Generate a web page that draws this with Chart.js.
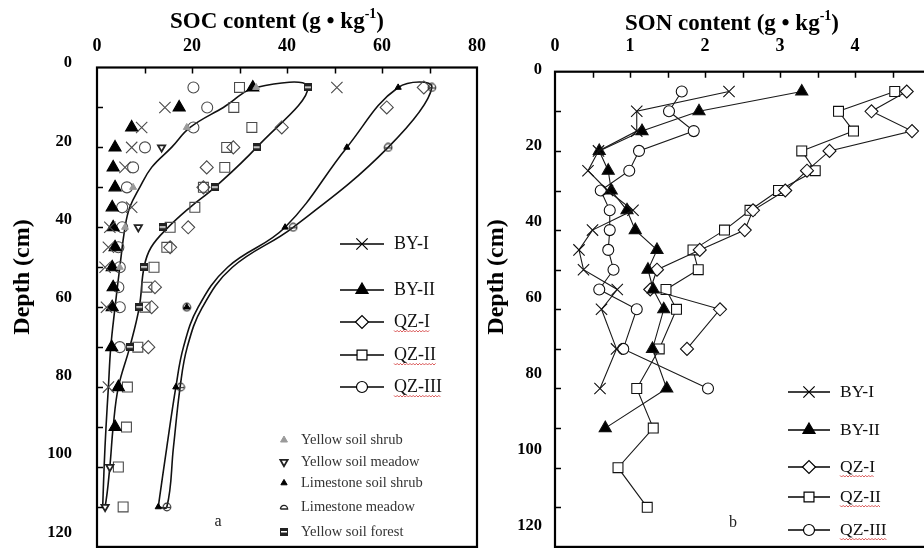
<!DOCTYPE html>
<html>
<head>
<meta charset="utf-8">
<title>SOC / SON depth profiles</title>
<script src="https://cdn.jsdelivr.net/npm/chart.js@4.4.0/dist/chart.umd.min.js"></script>
<style>
  html, body { margin: 0; padding: 0; background: #fff; overflow: hidden; }
  #wrap { position: relative; width: 924px; height: 556px; overflow: hidden; background: #fff; }
  #soc { position: absolute; left: 0; top: 0; width: 500px; height: 556px; }
  #son { position: absolute; left: 480px; top: 0; width: 460px; height: 556px; }
</style>
</head>
<body>
<div id="wrap">
  <canvas id="soc" width="500" height="556"></canvas>
  <canvas id="son" width="460" height="556"></canvas>
</div>
<script>
(() => {
    const SERIF = '"Liberation Serif", "Times New Roman", serif';

    // ---- tick labels ----
    const depthTicks = [0, 20, 40, 60, 80, 100, 120];
    const socTicks = [0, 20, 40, 60, 80];
    const sonTicks = [0, 1, 2, 3, 4, 5];
    const siteNames = ['BY-I', 'BY-II', 'QZ-I', 'QZ-II', 'QZ-III'];

    // ---- panel a : SOC (g/kg) per depth (cm) ----
    const socDepth = [5, 10, 15, 20, 25, 30, 35, 40, 45, 50, 55, 60, 70, 80, 90, 100, 110];
    const socBY1 = [50.5, 14.3, 9.4, 7.3, 5.9, null, 7.3, 2.7, 2.4, 1.7, null, 2.0, null, 2.4, null, null, null];
    const socBY2 = [32.8, 17.3, 7.3, 3.8, 3.4, 3.8, 3.2, 3.4, 3.8, 3.2, 3.4, 3.2, 3.1, 4.5, 3.8, null, null];
    const socQZ1 = [68.8, 61.0, 38.9, 28.7, 23.1, 22.4, null, 19.2, 15.4, null, 12.2, 11.5, 10.8, null, null, null, null];
    const socQZ2 = [30.0, 28.8, 32.6, 27.3, 26.9, 22.4, 20.6, 15.4, 14.7, 12.0, 10.5, 10.1, 8.6, 6.4, 6.2, 4.5, 5.5];
    const socQZ3 = [20.3, 23.2, 20.3, 10.1, 7.6, 6.3, 5.3, 5.3, 4.5, 4.8, 4.5, 4.8, 4.8, null, null, null, null];

    // land-use means (small symbols)
    const yShrubDepth = [5, 15, 30, 40, 50];
    const yShrub = [33.5, 18.9, 7.6, 5.9, 4.8];
    const yMeadowDepth = [20, 40, 100, 110];
    const yMeadow = [13.6, 8.7, 2.7, 1.7];
    const limeDepth = [5, 20, 40, 60, 80, 110];
    const limeShrub = [63.4, 52.6, 39.6, 18.9, 16.6, 12.9];
    const limeMeadow = [70.5, 61.3, 41.3, 18.9, 17.6, 14.7];
    const yForestDepth = [5, 20, 30, 40, 50, 60, 70];
    const yForest = [44.4, 33.6, 24.8, 13.8, 9.9, 8.9, 6.9];

    // fitted curves
    const fitShrubDepth = [5, 10, 15, 20, 25, 30, 35, 40, 50, 60, 70, 80, 90, 100, 110];
    const fitShrub = [33.5, 26.6, 19.6, 15.7, 11.5, 9.0, 6.9, 5.9, 4.8, 3.8, 2.9, 2.4, 1.9, 1.5, 1.2];
    const fitForestDepth = [5, 20, 30, 35, 40, 45, 50, 60, 70, 80, 90, 100, 110];
    const fitForest = [44.4, 33.6, 24.8, 19.6, 15.0, 11.4, 9.9, 8.9, 6.9, 4.5, 3.4, 2.7, 1.7];
    const fitLimeDepth = [5, 20, 40, 50, 60, 70, 80, 95, 110];
    const fitLimeShrub = [63.4, 52.6, 39.6, 27.5, 21.3, 18.2, 16.6, 14.7, 12.9];
    const fitLimeMeadow = [70.5, 61.3, 41.3, 28.5, 22.2, 19.0, 17.5, 16.1, 14.7];

    // ---- panel b : SON (g/kg) per depth (cm) ----
    const sonDepth = [5, 10, 15, 20, 25, 30, 35, 40, 45, 50, 55, 60, 70, 80, 90, 100, 110];
    const sonBY1 = [2.32, 1.09, 1.09, 0.58, 0.44, 0.70, 1.04, 0.50, 0.32, 0.38, 0.83, 0.62, 0.82, 0.60, null, null, null];
    const sonBY2 = [3.29, 1.92, 1.16, 0.59, 0.71, 0.75, 0.96, 1.07, 1.36, 1.24, 1.31, 1.45, 1.30, 1.49, 0.67, null, null];
    const sonQZ1 = [4.69, 4.22, 4.76, 3.66, 3.36, 3.07, 2.64, 2.53, 1.93, 1.36, 1.27, 2.20, 1.76, null, null, null, null];
    const sonQZ2 = [4.53, 3.78, 3.98, 3.29, 3.47, 2.98, 2.60, 2.26, 1.84, 1.91, 1.48, 1.62, 1.39, 1.09, 1.31, 0.84, 1.23];
    const sonQZ3 = [1.69, 1.52, 1.85, 1.12, 0.99, 0.61, 0.73, 0.73, 0.71, 0.78, 0.59, 1.09, 0.91, 2.04, null, null, null];

    // helpers
    const pts = (xs, ds) => xs.map((v, i) => ({ x: v, y: ds[i] })).filter(p => p.x !== null);
    // inner curve going up, outer curve going down, closed at the bottom
    const loop = (inner, outer) => {
        const up = inner.slice().reverse();
        return [...up, ...outer, up[0]];
    };

    function smallImg(w, h, paint) {
        const c = document.createElement('canvas');
        c.width = w; c.height = h;
        paint(c.getContext('2d'));
        return c;
    }
    const forestImg = smallImg(8, 8, g => {
        g.fillStyle = '#222'; g.fillRect(0, 0, 8, 8);
        g.fillStyle = '#fff'; g.fillRect(1, 3, 6, 1.5);
    });
    const meadowImg = smallImg(10, 10, g => {
        g.strokeStyle = '#333'; g.lineWidth = 1.2;
        g.beginPath(); g.arc(5, 5, 3.8, 0, Math.PI * 2); g.stroke();
        g.beginPath(); g.moveTo(1, 5.5); g.lineTo(9, 5.5); g.stroke();
    });
    const domeImg = smallImg(10, 8, g => {
        g.strokeStyle = '#222'; g.lineWidth = 1.3;
        g.beginPath(); g.arc(5, 6, 3.6, Math.PI, 0); g.lineTo(1.4, 6); g.stroke();
    });

    const MARK = {
        'BY-I':   { pointStyle: 'crossRot', radius: 8, fill: false },
        'BY-II':  { pointStyle: 'triangle', radius: 7, fill: true },
        'QZ-I':   { pointStyle: 'rectRot', radius: 6.5, fill: false },
        'QZ-II':  { pointStyle: 'rect', radius: 7, fill: false },
        'QZ-III': { pointStyle: 'circle', radius: 5.5, fill: false }
    };

    const SMALL = [
        { name: 'Yellow soil shrub', pointStyle: 'triangle', radius: 4, fill: '#9a9a9a', stroke: '#9a9a9a', bw: 1 },
        { name: 'Yellow soil meadow', pointStyle: 'triangle', rotation: 180, radius: 4.2, fill: '#fff', stroke: '#222', bw: 1.8 },
        { name: 'Limestone soil shrub', pointStyle: 'triangle', radius: 3.6, fill: '#000', stroke: '#000', bw: 1 },
        { name: 'Limestone meadow', pointStyle: domeImg, radius: 4 },
        { name: 'Yellow soil forest', pointStyle: forestImg, radius: 4 }
    ];

    // frame with inward tick marks
    const framePlugin = {
        id: 'frame',
        afterDraw(chart, args, opts) {
            const { ctx, chartArea: a } = chart;
            const xs = chart.scales.x, ys = chart.scales.y;
            ctx.save();
            ctx.strokeStyle = '#000';
            ctx.lineWidth = 1.5;
            ctx.beginPath();
            for (let v = xs.min + opts.xStep; v < xs.max - 1e-9; v += opts.xStep) {
                const px = Math.round(xs.getPixelForValue(v)) + 0.5;
                ctx.moveTo(px, a.top); ctx.lineTo(px, a.top + 6);
            }
            for (let v = ys.min + opts.yStep; v < ys.max - 1e-9; v += opts.yStep) {
                const py = Math.round(ys.getPixelForValue(v)) + 0.5;
                ctx.moveTo(a.left, py); ctx.lineTo(a.left + 6, py);
            }
            ctx.stroke();
            ctx.lineWidth = 2.2;
            ctx.strokeRect(a.left, a.top, a.right - a.left, a.bottom - a.top);
            ctx.restore();
        }
    };

    function drawRich(ctx, parts, cx, cy, size) {
        const fonts = parts.map(p => `bold ${p[1] ? Math.round(size * 0.6) : size}px ${SERIF}`);
        let total = 0;
        const widths = parts.map((p, i) => {
            ctx.font = fonts[i];
            const w = ctx.measureText(p[0]).width;
            total += w;
            return w;
        });
        let x = cx - total / 2;
        ctx.textAlign = 'left';
        ctx.textBaseline = 'alphabetic';
        parts.forEach((p, i) => {
            ctx.font = fonts[i];
            ctx.fillText(p[0], x, cy + size * 0.33 - (p[1] ? size * 0.42 : 0));
            x += widths[i];
        });
    }

    function squiggle(ctx, x0, x1, y) {
        ctx.save();
        ctx.strokeStyle = '#d03030';
        ctx.lineWidth = 0.8;
        ctx.beginPath();
        let k = 0;
        for (let x = x0; x <= x1; x += 1.6, k++) {
            const yy = y + (k % 2 ? 1 : -0.6);
            if (k === 0) ctx.moveTo(x, yy); else ctx.lineTo(x, yy);
        }
        ctx.stroke();
        ctx.restore();
    }

    function drawMarker(ctx, m, x, y, fill) {
        ctx.fillStyle = fill;
        ctx.strokeStyle = '#000';
        ctx.lineWidth = 1.2;
        Chart.helpers.drawPoint(ctx, { pointStyle: m.pointStyle, radius: m.radius, rotation: m.rotation || 0, borderWidth: 1.2 }, x, y);
    }

    // titles, legends, letters
    const notesPlugin = {
        id: 'notes',
        afterDraw(chart, args, o) {
            const ctx = chart.ctx;
            ctx.save();
            ctx.fillStyle = '#000';
            drawRich(ctx, o.title.parts, o.title.x, o.title.y, 23);

            ctx.save();
            ctx.translate(o.depth.x, o.depth.y);
            ctx.rotate(-Math.PI / 2);
            ctx.font = `bold 24px ${SERIF}`;
            ctx.textAlign = 'center';
            ctx.textBaseline = 'middle';
            ctx.fillText('Depth (cm)', 0, 0);
            ctx.restore();

            ctx.font = `16px ${SERIF}`;
            ctx.textAlign = 'center';
            ctx.textBaseline = 'middle';
            ctx.fillStyle = '#222';
            ctx.fillText(o.letter.text, o.letter.x, o.letter.y);

            // site legend
            const L = o.legend;
            siteNames.forEach((name, i) => {
                const y = L.rows[i];
                ctx.strokeStyle = '#000';
                ctx.lineWidth = 1.5;
                ctx.beginPath(); ctx.moveTo(L.x0, y); ctx.lineTo(L.x1, y); ctx.stroke();
                const m = MARK[name];
                drawMarker(ctx, m, (L.x0 + L.x1) / 2, y, m.fill ? '#000' : '#fff');
                ctx.fillStyle = '#111';
                ctx.font = `${L.size}px ${SERIF}`;
                ctx.textAlign = 'left';
                ctx.textBaseline = 'middle';
                ctx.fillText(name, L.tx, y);
                if (name.startsWith('QZ')) {
                    const w = ctx.measureText(name).width;
                    squiggle(ctx, L.tx, L.tx + w, y + 9);
                }
            });

            // land-use legend
            if (o.small) {
                const S = o.small;
                SMALL.forEach((m, i) => {
                    const y = S.rows[i];
                    ctx.fillStyle = m.fill || '#000';
                    ctx.strokeStyle = m.stroke || '#000';
                    ctx.lineWidth = m.bw || 1;
                    Chart.helpers.drawPoint(ctx, { pointStyle: m.pointStyle, radius: m.radius, rotation: m.rotation || 0, borderWidth: m.bw || 1 }, S.mx, y);
                    ctx.fillStyle = '#333';
                    ctx.font = `14.5px ${SERIF}`;
                    ctx.textAlign = 'left';
                    ctx.textBaseline = 'middle';
                    ctx.fillText(m.name, S.tx, y);
                });
            }
            ctx.restore();
        }
    };

    // scale boxes have fixed sizes; label overhang must not shrink the plot
    const noPad = s => { s.paddingTop = 0; s.paddingBottom = 0; s.paddingLeft = 0; s.paddingRight = 0; };

    function axes(xMin, xMax, xTicks, xHeight, xPad, labMin, labMax, yWidth, yPad) {
        const tickFont = { family: SERIF, size: 18, weight: 'bold' };
        return {
            x: {
                type: 'linear', position: 'top', min: xMin, max: xMax,
                grid: { display: false, drawTicks: false }, border: { display: false },
                afterBuildTicks: s => { s.ticks = xTicks.map(v => ({ value: v })); },
                ticks: { color: '#000', font: tickFont, padding: xPad, maxRotation: 0 },
                afterFit: s => { s.height = xHeight; noPad(s); }
            },
            y: { type: 'linear', reverse: true, min: 0, max: 120, display: false },
            yLab: {
                type: 'linear', position: 'left', reverse: true, min: labMin, max: labMax,
                grid: { display: false, drawTicks: false }, border: { display: false },
                afterBuildTicks: s => { s.ticks = depthTicks.map(v => ({ value: v })); },
                ticks: { color: '#000', font: { family: SERIF, size: 16.5, weight: 'bold' }, padding: yPad },
                afterFit: s => { s.width = yWidth; noPad(s); }
            }
        };
    }

    const baseOpts = {
        responsive: false,
        animation: false,
        events: [],
        plugins: { legend: { display: false }, tooltip: { enabled: false } }
    };

    // ---------- chart a ----------
    const socSeries = [socBY1, socBY2, socQZ1, socQZ2, socQZ3];
    const socMarkSets = siteNames.map((name, i) => {
        const m = MARK[name];
        return {
            label: name,
            data: pts(socSeries[i], socDepth),
            pointStyle: m.pointStyle,
            pointRadius: m.radius,
            pointBackgroundColor: m.fill ? '#000' : 'rgba(0,0,0,0)',
            pointBorderColor: m.fill ? '#000' : '#4a4a4a',
            pointBorderWidth: 1.1,
            showLine: false,
            order: 2
        };
    });

    const smallSet = (label, xs, ds, style) => Object.assign({
        label, data: pts(xs, ds), showLine: false, order: 1
    }, style);

    const socSets = [
        ...socMarkSets,
        smallSet('Yellow soil shrub', yShrub, yShrubDepth,
            { pointStyle: 'triangle', pointRadius: 4, pointBackgroundColor: '#9a9a9a', pointBorderColor: '#9a9a9a' }),
        smallSet('Yellow soil meadow', yMeadow, yMeadowDepth,
            { pointStyle: 'triangle', pointRotation: 180, pointRadius: 4.2, pointBackgroundColor: '#fff', pointBorderColor: '#222', pointBorderWidth: 1.8 }),
        smallSet('Limestone soil shrub', limeShrub, limeDepth,
            { pointStyle: 'triangle', pointRadius: 3.6, pointBackgroundColor: '#000', pointBorderColor: '#000' }),
        smallSet('Limestone meadow', limeMeadow, limeDepth,
            { pointStyle: meadowImg, pointRadius: 4 }),
        smallSet('Yellow soil forest', yForest, yForestDepth,
            { pointStyle: forestImg, pointRadius: 4 }),
        {
            label: 'Yellow soil fit',
            data: loop(pts(fitShrub, fitShrubDepth), pts(fitForest, fitForestDepth)),
            showLine: true, tension: 0.4, borderColor: '#111', borderWidth: 1.6,
            pointRadius: 0, order: 3
        },
        {
            label: 'Limestone fit',
            data: loop(pts(fitLimeShrub, fitLimeDepth), pts(fitLimeMeadow, fitLimeDepth)),
            showLine: true, tension: 0.4, borderColor: '#111', borderWidth: 1.6,
            pointRadius: 0, order: 3
        }
    ];

    new Chart(document.getElementById('soc'), {
        type: 'scatter',
        data: { datasets: socSets },
        options: Object.assign({}, baseOpts, {
            layout: { padding: { left: 0, right: 23, top: 0, bottom: 8.5 } },
            scales: axes(0, 80, socTicks, 67.5, 10, 1.15, 123.7, 97, 25),
            plugins: Object.assign({}, baseOpts.plugins, {
                frame: { xStep: 10, yStep: 10 },
                notes: {
                    title: { parts: [['SOC content (g \u2022 kg', false], ['-1', true], [')', false]], x: 277, y: 20 },
                    depth: { x: 23, y: 277 },
                    letter: { text: 'a', x: 218, y: 522 },
                    legend: { x0: 340, x1: 384, tx: 394, size: 18, rows: [244, 290, 322, 355, 387] },
                    small: { mx: 284, tx: 301, rows: [440, 462, 483, 507, 532] }
                }
            })
        }),
        plugins: [framePlugin, notesPlugin]
    });

    // ---------- chart b ----------
    const sonSeries = [sonBY1, sonBY2, sonQZ1, sonQZ2, sonQZ3];
    const sonSets = siteNames.map((name, i) => {
        const m = MARK[name];
        return {
            label: name,
            data: pts(sonSeries[i], sonDepth),
            showLine: true,
            tension: 0,
            borderColor: '#1a1a1a',
            borderWidth: 1.1,
            pointStyle: m.pointStyle,
            pointRadius: m.radius,
            pointBackgroundColor: m.fill ? '#000' : '#fff',
            pointBorderColor: '#111',
            pointBorderWidth: 1.1
        };
    });

    new Chart(document.getElementById('son'), {
        type: 'scatter',
        data: { datasets: sonSets },
        options: Object.assign({}, baseOpts, {
            layout: { padding: { left: 0, right: 10, top: 0, bottom: 4.3 } },
            scales: axes(0, 5, sonTicks, 71.7, 14.5, 0.44, 125.6, 75, 13),
            plugins: Object.assign({}, baseOpts.plugins, {
                frame: { xStep: 0.5, yStep: 10 },
                notes: {
                    title: { parts: [['SON content (g \u2022 kg', false], ['-1', true], [')', false]], x: 252, y: 22 },
                    depth: { x: 17, y: 277 },
                    letter: { text: 'b', x: 253, y: 523 },
                    legend: { x0: 308, x1: 350, tx: 360, size: 17.5, rows: [392, 430, 467, 497, 530] }
                }
            })
        }),
        plugins: [framePlugin, notesPlugin]
    });
})();
</script>
</body>
</html>
